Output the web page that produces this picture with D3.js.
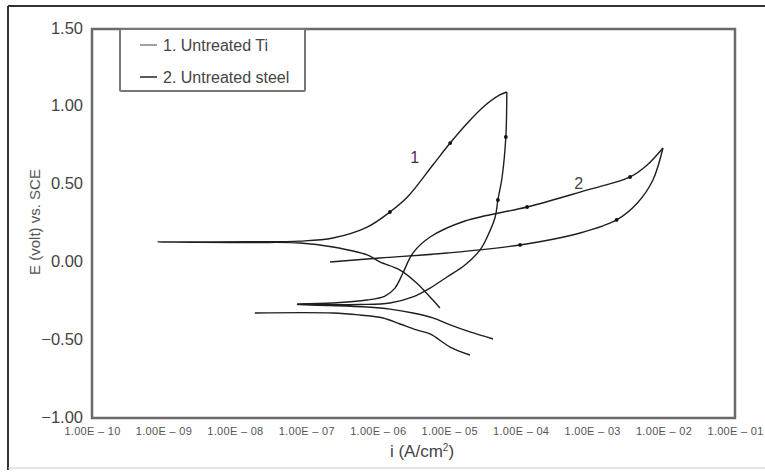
<!DOCTYPE html>
<html>
<head>
<meta charset="utf-8">
<script src="https://cdn.jsdelivr.net/npm/d3@7"></script>
<style>
  body { margin: 0; background: #fff; }
  svg { display: block; font-family: "Liberation Sans", Arial, sans-serif; }
</style>
</head>
<body>
<svg id="chart" width="765" height="472"></svg>
<script>
// current density i (A/cm2) and potential E (V vs SCE)
// Ti: cathodic branch -> Ecorr spike -> anodic rise up to the vertex
var tiForward = [
  [7.4e-6, -0.293], [5.9e-6, -0.242], [3.5e-6, -0.132], [2.05e-6, -0.049],
  [1.07e-6, 0.003], [7.1e-7, 0.048], [2.36e-7, 0.099], [8.2e-8, 0.125],
  [1.63e-8, 0.128], [8.4e-10, 0.131], [1.63e-8, 0.133], [8.2e-8, 0.137],
  [2.36e-7, 0.157], [7.1e-7, 0.227], [1.48e-6, 0.324], [2.6e-6, 0.42],
  [5.9e-6, 0.626], [1.03e-5, 0.767], [1.8e-5, 0.896], [3.0e-5, 0.999],
  [5.1e-5, 1.076], [6.4e-5, 1.095]
];
// Ti: reverse scan from the vertex back down
var tiReverse = [
  [6.4e-5, 1.095], [6.2e-5, 0.806], [5.5e-5, 0.549], [4.8e-5, 0.401],
  [4.4e-5, 0.292], [3.5e-5, 0.176], [2.7e-5, 0.08], [1.66e-5, -0.017],
  [9.3e-6, -0.094], [5.4e-6, -0.165], [3.1e-6, -0.222], [1.48e-6, -0.261],
  [5.6e-7, -0.271], [7.4e-8, -0.271], [2.15e-7, -0.277], [7.1e-7, -0.287],
  [1.48e-6, -0.30], [3.1e-6, -0.325], [5.9e-6, -0.357], [1.03e-5, -0.402],
  [1.95e-5, -0.447], [4.1e-5, -0.492]
];
// steel: cathodic branch
var steelCathodic = [
  [1.95e-5, -0.595], [1.03e-5, -0.544], [5.4e-6, -0.46], [3.5e-6, -0.434],
  [2.05e-6, -0.396], [1.18e-6, -0.357], [5.6e-7, -0.338], [2.36e-7, -0.325],
  [1.9e-8, -0.325]
];
// steel: forward anodic scan up to the vertex
var steelForward = [
  [7.4e-8, -0.267], [2.36e-7, -0.261], [7.1e-7, -0.242], [1.26e-6, -0.216],
  [1.74e-6, -0.165], [2.25e-6, -0.068], [3.1e-6, 0.06], [5.4e-6, 0.163],
  [1.66e-5, 0.266], [1.23e-4, 0.356], [6.8e-4, 0.452], [3.4e-3, 0.549],
  [5.9e-3, 0.626], [9.8e-3, 0.735]
];
// steel: reverse scan
var steelReverse = [
  [9.8e-3, 0.735], [7.1e-3, 0.53], [4.3e-3, 0.382], [2.2e-3, 0.273],
  [6.8e-4, 0.189], [9.8e-5, 0.112], [9.3e-6, 0.06], [1.07e-6, 0.028],
  [2.15e-7, 0.003]
];
// small dots marked along the curves
var tiDots = [[1.48e-6, 0.324], [1.03e-5, 0.767], [6.2e-5, 0.806], [4.8e-5, 0.401]];
var steelDots = [[1.23e-4, 0.356], [3.4e-3, 0.549], [9.8e-5, 0.112], [2.2e-3, 0.273]];

var xTicks = [1e-10, 1e-9, 1e-8, 1e-7, 1e-6, 1e-5, 1e-4, 1e-3, 1e-2, 1e-1];
var yTicks = [-1, -0.5, 0, 0.5, 1, 1.5];
var legendLabels = ["1. Untreated Ti", "2. Untreated steel"];
var curveLabels = [
  { text: "1", i: 3.3e-6, E: 0.64, color: "#4b2a5c" },
  { text: "2", i: 6.5e-4, E: 0.47, color: "#444" }
];

var svg = d3.select('#chart');
var plotLeft = 92, plotRight = 735, plotTop = 29, plotBottom = 418;

var x = d3.scaleLog().domain([1e-10, 1e-1]).range([plotLeft, plotRight]);
var y = d3.scaleLinear().domain([-1, 1.5]).range([plotBottom, plotTop]);

// outer frame of the figure
svg.append('line').attr('x1', 8).attr('x2', 765).attr('y1', 6).attr('y2', 6)
  .attr('stroke', '#333').attr('stroke-width', 2);
svg.append('line').attr('x1', 8).attr('x2', 8).attr('y1', 6).attr('y2', 470)
  .attr('stroke', '#333').attr('stroke-width', 2);
svg.append('line').attr('x1', 8).attr('x2', 765).attr('y1', 468).attr('y2', 468)
  .attr('stroke', '#ccc').attr('stroke-width', 1);

// axes
var xAxis = d3.axisBottom(x).tickValues(xTicks).tickSize(0).tickPadding(9)
  .tickFormat(function (d) {
    var e = Math.round(Math.log10(d));
    return '1.00E \u2013 ' + (e < 0 ? -e : e).toString().padStart(2, '0');
  });
svg.append('g').attr('transform', 'translate(0,' + plotBottom + ')').call(xAxis)
  .call(function (g) {
    g.select('.domain').remove();
    g.selectAll('text').attr('fill', '#555').attr('font-size', 11)
      .attr('letter-spacing', 0.3);
  });

var yAxis = d3.axisLeft(y).tickValues(yTicks).tickSize(0).tickPadding(9)
  .tickFormat(d3.format('.2f'));
svg.append('g').attr('transform', 'translate(' + plotLeft + ',0)').call(yAxis)
  .call(function (g) {
    g.select('.domain').remove();
    g.selectAll('text').attr('fill', '#444').attr('font-size', 16.5)
      .attr('dy', '0.25em');
  });

// plot box
svg.append('rect').attr('x', plotLeft).attr('y', plotTop)
  .attr('width', plotRight - plotLeft).attr('height', plotBottom - plotTop)
  .attr('fill', 'none').attr('stroke', '#6a6a6a').attr('stroke-width', 2.5);

// axis titles
svg.append('text').attr('transform', 'translate(40,222) rotate(-90)')
  .attr('text-anchor', 'middle').attr('font-size', 15).attr('fill', '#555')
  .text('E (volt) vs. SCE');
var xt = svg.append('text').attr('x', 422).attr('y', 457)
  .attr('text-anchor', 'middle').attr('font-size', 17).attr('fill', '#444');
xt.append('tspan').text('i (A/cm');
xt.append('tspan').attr('font-size', 10).attr('dy', -6).text('2');
xt.append('tspan').attr('dy', 6).text(')');

// curves
var line = d3.line()
  .x(function (d) { return x(d[0]); })
  .y(function (d) { return y(d[1]); })
  .curve(d3.curveCatmullRom.alpha(0.5));

[tiForward, tiReverse, steelCathodic, steelForward, steelReverse].forEach(function (s) {
  svg.append('path').datum(s).attr('d', line)
    .attr('fill', 'none').attr('stroke', '#1e1e1e').attr('stroke-width', 1.4)
    .attr('stroke-linejoin', 'round');
});

svg.selectAll('.dot').data(tiDots.concat(steelDots)).enter().append('circle')
  .attr('class', 'dot')
  .attr('cx', function (d) { return x(d[0]); })
  .attr('cy', function (d) { return y(d[1]); })
  .attr('r', 1.9).attr('fill', '#111');

svg.selectAll('.clabel').data(curveLabels).enter().append('text')
  .attr('class', 'clabel')
  .attr('x', function (d) { return x(d.i); })
  .attr('y', function (d) { return y(d.E); })
  .attr('text-anchor', 'middle').attr('font-size', 16)
  .attr('fill', function (d) { return d.color; })
  .text(function (d) { return d.text; });

// legend
var legend = svg.append('g');
legend.append('rect').attr('x', 120).attr('y', plotTop).attr('width', 185).attr('height', 62)
  .attr('fill', '#fff').attr('stroke', '#777').attr('stroke-width', 2).attr('rx', 1);
var legendColors = ['#8a8a8a', '#333'];
legendLabels.forEach(function (t, k) {
  var ly = 45 + k * 32;
  legend.append('line').attr('x1', 140).attr('x2', 157).attr('y1', ly).attr('y2', ly)
    .attr('stroke', legendColors[k]).attr('stroke-width', 1.6);
  legend.append('text').attr('x', 163).attr('y', ly + 6)
    .attr('font-size', 16).attr('fill', '#444').text(t);
});
</script>
</body>
</html>
